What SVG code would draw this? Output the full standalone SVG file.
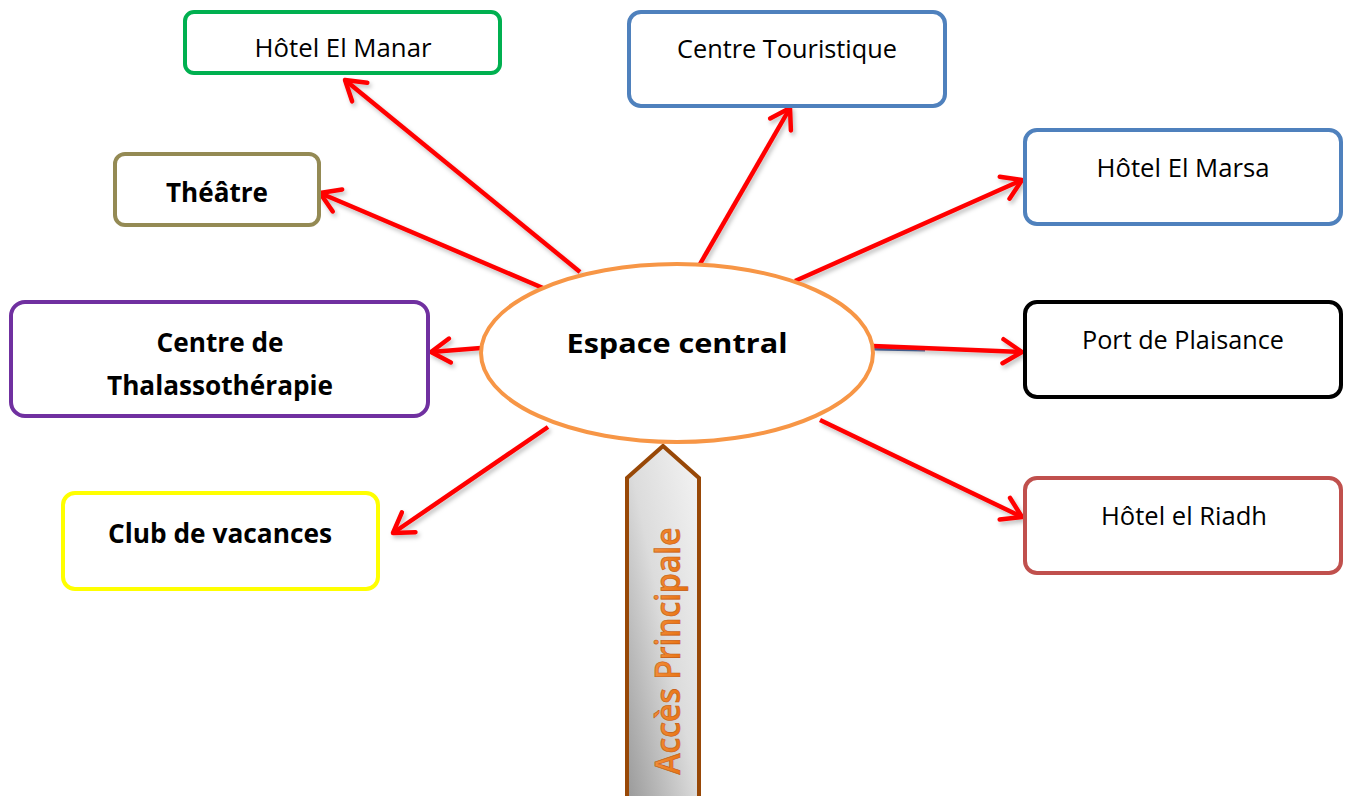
<svg xmlns="http://www.w3.org/2000/svg" width="1346" height="796" viewBox="0 0 1346 796">
<style>
.box{fill:#fff;stroke-width:4}
.t{font-family:"Open Sans","Liberation Sans",sans-serif;font-size:26px;fill:#000;text-anchor:middle}
.b{font-weight:bold}
.c{stroke:#ff0000;stroke-width:4.5;fill:none;marker-end:url(#ah);filter:url(#sh)}
</style>
<defs>
<marker id="ah" markerUnits="userSpaceOnUse" markerWidth="30" markerHeight="30" viewBox="-22 -15 26 30" refX="0" refY="0" orient="auto">
<path d="M-19,-12 L0,0 L-19,12" fill="none" stroke="#ff0000" stroke-width="4.5" stroke-linecap="round" stroke-linejoin="round"/>
</marker>
<filter id="sh" filterUnits="userSpaceOnUse" x="0" y="0" width="1346" height="796">
<feDropShadow dx="2" dy="3" stdDeviation="2" flood-color="#000" flood-opacity="0.25"/>
</filter>
<linearGradient id="gr" x1="0" y1="1" x2="1" y2="0">
<stop offset="0" stop-color="#9a9a9a"/>
<stop offset="0.5" stop-color="#dcdcdc"/>
<stop offset="1" stop-color="#f4f4f4"/>
</linearGradient>
<linearGradient id="og" x1="0" y1="0" x2="0" y2="1">
<stop offset="0" stop-color="#f79646"/>
<stop offset="1" stop-color="#e36c09"/>
</linearGradient>
</defs>
<g id="connectors">
<line class="c" x1="580" y1="272" x2="345" y2="80"/>
<line class="c" x1="543" y1="288" x2="320" y2="193"/>
<line class="c" x1="700" y1="264" x2="790" y2="108"/>
<line class="c" x1="795" y1="281" x2="1022" y2="180"/>
<line x1="873" y1="349" x2="925" y2="350" stroke="#4f6fa8" stroke-width="3"/>
<line class="c" x1="873" y1="346" x2="1022" y2="352"/>
<line class="c" x1="820" y1="420" x2="1022" y2="517"/>
<line class="c" x1="481" y1="348" x2="431" y2="352"/>
<line class="c" x1="548" y1="427" x2="393" y2="533"/>
</g>
<g id="n-access">
<path d="M627,796 L627,478 L663,446 L699,478 L699,796" fill="url(#gr)" stroke="#984807" stroke-width="4"/>
<text transform="translate(680,651) rotate(-90)" font-family="'Open Sans','Liberation Sans',sans-serif" font-size="34" font-weight="600" fill="url(#og)" stroke="#c55a11" stroke-width="0.6" text-anchor="middle" textLength="247" lengthAdjust="spacingAndGlyphs">Accès Principale</text>
</g>
<g id="n-central">
<ellipse cx="677" cy="353" rx="196" ry="89" fill="#fff" stroke="#f79646" stroke-width="4"/>
<text class="t b" x="677" y="353" font-size="34" textLength="221" lengthAdjust="spacingAndGlyphs">Espace central</text>
</g>
<g id="n-manar">
<rect class="box" x="185" y="12" width="315" height="61" rx="9" stroke="#00b050"/>
<text class="t" x="343" y="57" textLength="177" lengthAdjust="spacingAndGlyphs">Hôtel El Manar</text>
</g>
<g id="n-theatre">
<rect class="box" x="115" y="154" width="204" height="71" rx="10" stroke="#948a54"/>
<text class="t b" x="217" y="202" textLength="102" lengthAdjust="spacingAndGlyphs">Théâtre</text>
</g>
<g id="n-touristique">
<rect class="box" x="629" y="12" width="316" height="94" rx="12" stroke="#4f81bd"/>
<text class="t" x="787" y="58" textLength="220" lengthAdjust="spacingAndGlyphs">Centre Touristique</text>
</g>
<g id="n-marsa">
<rect class="box" x="1025" y="130" width="316" height="94" rx="12" stroke="#4f81bd"/>
<text class="t" x="1183" y="177" textLength="173" lengthAdjust="spacingAndGlyphs">Hôtel El Marsa</text>
</g>
<g id="n-port">
<rect class="box" x="1025" y="302" width="316" height="95" rx="12" stroke="#000"/>
<text class="t" x="1183" y="349" textLength="202" lengthAdjust="spacingAndGlyphs">Port de Plaisance</text>
</g>
<g id="n-riadh">
<rect class="box" x="1025" y="478" width="316" height="95" rx="12" stroke="#c0504d"/>
<text class="t" x="1184" y="525" textLength="166" lengthAdjust="spacingAndGlyphs">Hôtel el Riadh</text>
</g>
<g id="n-thalasso">
<rect class="box" x="11" y="302" width="417" height="114" rx="14" stroke="#7030a0"/>
<text class="t b" x="220" y="352" textLength="127" lengthAdjust="spacingAndGlyphs">Centre de</text>
<text class="t b" x="220" y="395" textLength="226" lengthAdjust="spacingAndGlyphs">Thalassothérapie</text>
</g>
<g id="n-club">
<rect class="box" x="63" y="493" width="315" height="96" rx="12" stroke="#ffff00"/>
<text class="t b" x="220" y="543" textLength="224" lengthAdjust="spacingAndGlyphs">Club de vacances</text>
</g>
</svg>
